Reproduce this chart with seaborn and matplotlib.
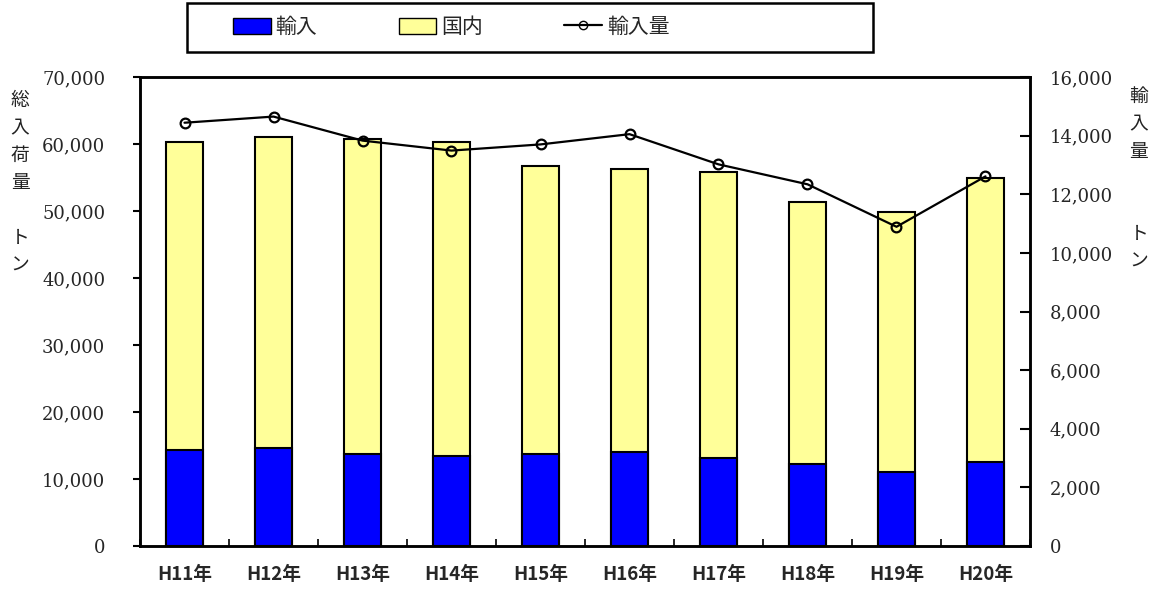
import matplotlib
matplotlib.use("Agg")
import matplotlib.pyplot as plt
from matplotlib.patches import Patch, Rectangle
from matplotlib.lines import Line2D
import numpy as np
import pandas as pd
import seaborn as sns

# data (tons)
years = ["H11年", "H12年", "H13年", "H14年", "H15年",
         "H16年", "H17年", "H18年", "H19年", "H20年"]
imports = [14330, 14580, 13730, 13480, 13730, 14030, 13180, 12240, 11040, 12580]
domestic = [45920, 46510, 47060, 46770, 42940, 42280, 42600, 39060, 38770, 42300]
import_volume = [14440, 14650, 13830, 13490, 13700, 14050, 13020, 12340, 10890, 12610]

sns.set_theme(style="white")
plt.rcParams["font.family"] = ["Noto Sans CJK JP", "DejaVu Sans"]

df = pd.DataFrame({
    "year": years,
    "import": imports,
    "total": np.array(imports) + np.array(domestic),
    "volume": import_volume,
})

W, H = 1158, 591
fig = plt.figure(figsize=(W / 100, H / 100), dpi=100)
ax = fig.add_axes([140 / W, 1 - 546 / H, 890 / W, 469 / H])

bar_kw = dict(width=0.42, edgecolor="black", linewidth=1.5, ax=ax, zorder=2)
sns.barplot(data=df, x="year", y="total", color="#FFFF99", saturation=1, **bar_kw)
sns.barplot(data=df, x="year", y="import", color="#0000FF", saturation=1, **bar_kw)

ax.set_xlim(-0.5, len(years) - 0.5)
ax.set_ylim(0, 70000)
ax.set_yticks(range(0, 70001, 10000))
ax.set_yticklabels([f"{v:,}" for v in range(0, 70001, 10000)],
                   family="DejaVu Serif", fontsize=13)
ax.set_xlabel("")
ax.set_ylabel("")
ax.tick_params(axis="x", length=0, pad=14, labelsize=13.5)
for lbl in ax.get_xticklabels():
    lbl.set_fontweight("bold")
ax.set_xticks(np.arange(-0.5, len(years), 1), minor=True)
ax.tick_params(axis="x", which="minor", direction="in", length=5, width=1.2,
               color="black", bottom=True)
ax.tick_params(axis="y", direction="out", length=5, width=1.5, color="black",
               left=True, pad=20)
for s in ax.spines.values():
    s.set_color("black")
    s.set_linewidth(1.8)

ax2 = ax.twinx()
sns.lineplot(data=df, x="year", y="volume", ax=ax2, color="black", linewidth=1.6,
             marker="o", markersize=7, markerfacecolor="none",
             markeredgecolor="black", markeredgewidth=1.6, zorder=3)
ax2.set_ylim(0, 16000)
ax2.set_yticks(range(0, 16001, 2000))
ax2.set_yticklabels([f"{v:,}" for v in range(0, 16001, 2000)],
                    family="DejaVu Serif", fontsize=13)
ax2.set_ylabel("")
ax2.set_xlabel("")
ax2.tick_params(axis="y", direction="in", length=7, width=1.5, color="black",
                right=True, pad=14)
ax2.set_xlim(-0.5, len(years) - 0.5)
for s in ax2.spines.values():
    s.set_color("black")
    s.set_linewidth(1.8)

fig.text(20 / W, 1 - 90 / H, "総\n入\n荷\n量\n\nト\nン", ha="center", va="top",
         fontsize=13.5, linespacing=1.4, color="#222222")
fig.text(1139 / W, 1 - 86 / H, "輸\n入\n量\n\n\nト\nン", ha="center", va="top",
         fontsize=13.5, linespacing=1.4, color="#222222")

# legend frame drawn as a figure rectangle, entries placed inside it
fig.add_artist(Rectangle((187 / W, 1 - 52 / H), 686 / W, 49 / H,
                         transform=fig.transFigure, facecolor="white",
                         edgecolor="black", linewidth=1.8))
handles = [
    Patch(facecolor="#0000FF", edgecolor="black", linewidth=1),
    Patch(facecolor="#FFFF99", edgecolor="black", linewidth=1),
    Line2D([0], [0], color="black", linewidth=1.6, marker="o", markersize=6,
           markerfacecolor="none", markeredgecolor="black"),
]
fig.legend(handles, ["輸入", "国内", "輸入量"], ncol=3,
           bbox_to_anchor=(233 / W, 1 - 27 / H), loc="center left",
           fontsize=15, frameon=False, handlelength=1.8, handleheight=0.8,
           handletextpad=0.25, columnspacing=3.9, borderpad=0, borderaxespad=0)

fig.savefig("out.png", dpi=100)
